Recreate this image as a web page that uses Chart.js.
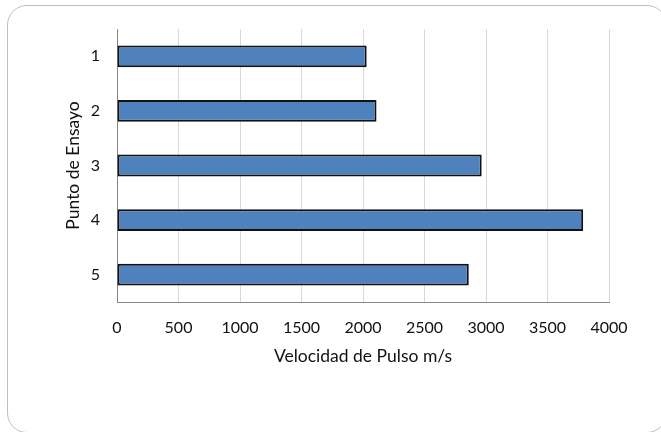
<!DOCTYPE html>
<html>
<head>
<meta charset="utf-8">
<script src="https://cdn.jsdelivr.net/npm/chart.js@4/dist/chart.umd.min.js"></script>
<style>
  html, body { margin: 0; padding: 0; background: #fff; overflow: hidden; }
  #marco {
    position: absolute; left: 7px; top: 5px; width: 660px; height: 428px;
    border: 1px solid #bfbfbf; border-radius: 20px; box-sizing: border-box;
    pointer-events: none;
  }
  #grafica { position: absolute; left: 0; top: 0; }
</style>
</head>
<body>
<canvas id="grafica" width="661" height="432"></canvas>
<div id="marco"></div>
<script>
// Datos
const puntos = ['1', '2', '3', '4', '5'];
const velocidades = [2030, 2110, 2965, 3790, 2860];
const tituloX = 'Velocidad de Pulso m/s';
const tituloY = 'Punto de Ensayo';

const fuenteTicks = { family: 'Lato, "Open Sans", sans-serif', size: 16 };
const fuenteTitulo = { family: 'Lato, "Open Sans", sans-serif', size: 17.5 };

new Chart(document.getElementById('grafica').getContext('2d'), {
  type: 'bar',
  data: {
    labels: puntos,
    datasets: [{
      data: velocidades,
      backgroundColor: '#4f81bd',
      borderColor: '#111',
      borderWidth: 2,
      borderSkipped: false,
      barPercentage: 0.4,
      categoryPercentage: 1
    }]
  },
  options: {
    indexAxis: 'y',
    responsive: false,
    animation: false,
    layout: { padding: { top: 29, right: 52, bottom: 0, left: 0 } },
    plugins: { legend: { display: false }, tooltip: { enabled: false } },
    scales: {
      x: {
        min: 0, max: 4000,
        ticks: { stepSize: 500, color: '#111', font: fuenteTicks, padding: 16,
                 callback: (v) => String(v) },
        grid: { color: '#d9d9d9', drawTicks: false },
        border: { color: '#868686' },
        title: { display: true, text: tituloX, color: '#111', font: fuenteTitulo, padding: { top: 4, bottom: 65 } },
        afterFit: (s) => { s.height = 130; }
      },
      y: {
        ticks: { color: '#111', font: fuenteTicks, padding: 17 },
        grid: { display: false, drawTicks: false },
        border: { color: '#868686' },
        title: { display: true, text: tituloY, color: '#111', font: fuenteTitulo, padding: { top: 63, bottom: 4 } },
        afterFit: (s) => { s.width = 117; }
      }
    }
  }
});
</script>
</body>
</html>
